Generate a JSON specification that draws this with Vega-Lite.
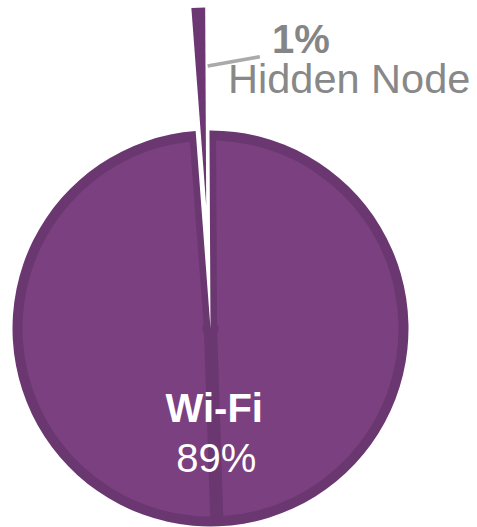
{
  "$schema": "https://vega.github.io/schema/vega-lite/v6.json",
  "autosize": "none",
  "width": 421,
  "height": 397,
  "padding": {"left": 0, "top": 130, "right": 56, "bottom": 0},
  "background": "white",
  "view": {"stroke": null},
  "data": {
    "values": [
      {"category": "Wi-Fi", "part": 1, "value": 44.6, "label": "89%"},
      {"category": "Wi-Fi", "part": 2, "value": 44.4, "label": "89%"},
      {"category": "Hidden Node", "part": 3, "value": 1, "label": "1%"}
    ]
  },
  "transform": [
    {"stack": "value", "groupby": [], "sort": [{"field": "part", "order": "ascending"}], "as": ["v0", "v1"]}
  ],
  "layer": [
    {
      "transform": [
        {"filter": "datum.category === 'Wi-Fi'"},
        {"aggregate": [{"op": "min", "field": "v0", "as": "a0"}, {"op": "max", "field": "v1", "as": "a1"}], "groupby": ["category"]}
      ],
      "mark": {"type": "arc", "outerRadius": 198, "color": "#6b3771"},
      "encoding": {
        "theta": {"field": "a0", "type": "quantitative", "stack": null, "scale": {"domain": [0, 90], "range": [-0.0052, 6.278]}},
        "theta2": {"field": "a1"}
      }
    },
    {
      "transform": [{"filter": "datum.category === 'Wi-Fi'"}],
      "mark": {"type": "arc", "outerRadius": 188, "innerRadius": 8, "padAngle": 0.07, "color": "#7b4080"},
      "encoding": {
        "theta": {"field": "v0", "type": "quantitative", "stack": null},
        "theta2": {"field": "v1"}
      }
    },
    {
      "transform": [{"filter": "datum.category === 'Hidden Node'"}],
      "mark": {"type": "arc", "outerRadius": 198, "color": "#6c3772", "x": {"expr": "width/2 - 4.3"}, "y": {"expr": "height/2 - 123"}},
      "encoding": {
        "theta": {"field": "v0", "type": "quantitative", "stack": null},
        "theta2": {"field": "v1"}
      }
    },
    {
      "transform": [
        {"aggregate": [{"op": "min", "field": "v0", "as": "a0"}, {"op": "max", "field": "v1", "as": "a1"}], "groupby": ["category", "label"]},
        {"calculate": "(datum.a0 + datum.a1) / 2", "as": "amid"}
      ],
      "layer": [
        {
          "transform": [{"filter": "datum.category === 'Wi-Fi'"}],
          "mark": {"type": "text", "radius": 94, "fontSize": 40, "fontWeight": "bold", "font": "Liberation Sans", "color": "white", "align": "center", "baseline": "alphabetic"},
          "encoding": {"theta": {"field": "amid", "type": "quantitative", "stack": null}, "text": {"field": "category"}}
        },
        {
          "transform": [{"filter": "datum.category === 'Wi-Fi'"}],
          "mark": {"type": "text", "radius": 144, "fontSize": 40, "font": "Liberation Sans", "color": "white", "align": "center", "baseline": "alphabetic"},
          "encoding": {"theta": {"field": "amid", "type": "quantitative", "stack": null}, "text": {"field": "label"}}
        },
        {
          "transform": [{"filter": "datum.category === 'Hidden Node'"}],
          "mark": {"type": "text", "radius": 275.7, "dx": 72.5, "fontSize": 40, "fontWeight": "bold", "font": "Liberation Sans", "color": "#858585", "align": "left", "baseline": "alphabetic"},
          "encoding": {"theta": {"field": "amid", "type": "quantitative", "stack": null}, "text": {"field": "label"}}
        },
        {
          "transform": [{"filter": "datum.category === 'Hidden Node'"}],
          "mark": {"type": "text", "radius": 235.7, "dx": 27, "fontSize": 41.5, "font": "Liberation Sans", "color": "#888888", "align": "left", "baseline": "alphabetic"},
          "encoding": {"theta": {"field": "amid", "type": "quantitative", "stack": null}, "text": {"field": "category"}}
        },
        {
          "transform": [{"filter": "datum.category === 'Hidden Node'"}],
          "mark": {"type": "text", "radius": 264, "dx": 34, "angle": -10, "fontSize": 53, "font": "Liberation Sans", "color": "#aaaaaa", "align": "center", "baseline": "middle", "text": "—"},
          "encoding": {"theta": {"field": "amid", "type": "quantitative", "stack": null}}
        }
      ]
    }
  ]
}
